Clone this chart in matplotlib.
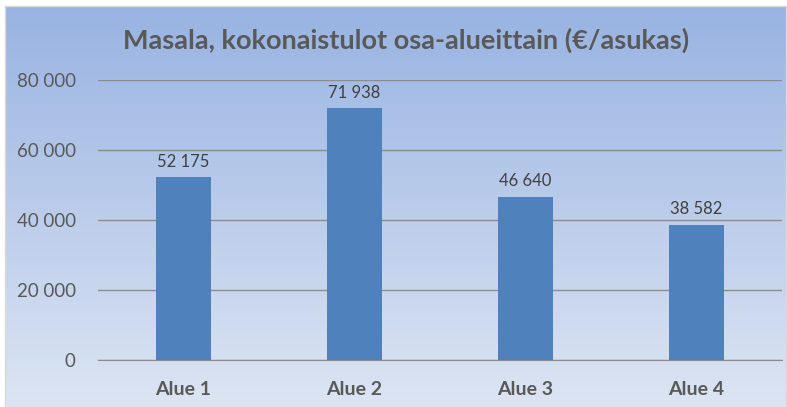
import matplotlib.pyplot as plt
import numpy as np

# data
categories = ['Alue 1', 'Alue 2', 'Alue 3', 'Alue 4']
values = [52175, 71938, 46640, 38582]
yticks = [0, 20000, 40000, 60000, 80000]

W, H = 787, 407
fig = plt.figure(figsize=(W / 100, H / 100), dpi=100)
fig.patch.set_facecolor('white')

# gradient background (top darker blue -> bottom pale)
bg = fig.add_axes([5 / W, 0, 781 / W, 401 / H])
top = np.array([0x98, 0xB3, 0xE2]) / 255
bot = np.array([0xDD, 0xE5, 0xF3]) / 255
t = np.linspace(0, 1, 256)[:, None]
grad = top[None, :] * (1 - t) + bot[None, :] * t
bg.imshow(grad[:, None, :], aspect='auto', extent=[0, 1, 0, 1])
bg.set_xticks([])
bg.set_yticks([])
for s in bg.spines.values():
    s.set_color('#D9D9D9')
    s.set_linewidth(1)
bg.set_zorder(0)

txt = '#595959'
font = 'Lato'

ax = fig.add_axes([98 / W, (H - 360) / H, 684 / W, 280 / H])
ax.set_zorder(1)
ax.patch.set_alpha(0)
x = np.arange(len(categories))
bars = ax.bar(x, values, width=0.32, color='#4F81BD', zorder=3)
for xi, v in zip(x, values):
    ax.text(xi, v + 2200, f'{v:,}'.replace(',', ' '), ha='center', va='bottom',
            fontsize=12, color='#404040', family=font)

ax.set_xlim(-0.5, len(categories) - 0.5)
ax.set_ylim(0, 80000)
ax.set_yticks(yticks)
ax.set_yticklabels([f'{v:,}'.replace(',', ' ') for v in yticks], family=font,
                   fontsize=13.5, color=txt)
ax.set_xticks(x)
ax.set_xticklabels(categories, family=font, fontsize=14, fontweight='bold', color=txt)
ax.tick_params(axis='both', length=0)
ax.tick_params(axis='y', pad=16)
ax.tick_params(axis='x', pad=15)
ax.grid(axis='y', color='#8C8C8C', linewidth=1)
ax.set_axisbelow(True)
for s in ['top', 'right', 'left']:
    ax.spines[s].set_visible(False)
ax.spines['bottom'].set_color('#8C8C8C')

fig.text(406 / W, 1 - 40 / H, 'Masala, kokonaistulot osa-alueittain (€/asukas)',
         ha='center', va='center', fontsize=19.5, fontweight='bold', color=txt, family=font)

fig.savefig('out.png', dpi=100)
